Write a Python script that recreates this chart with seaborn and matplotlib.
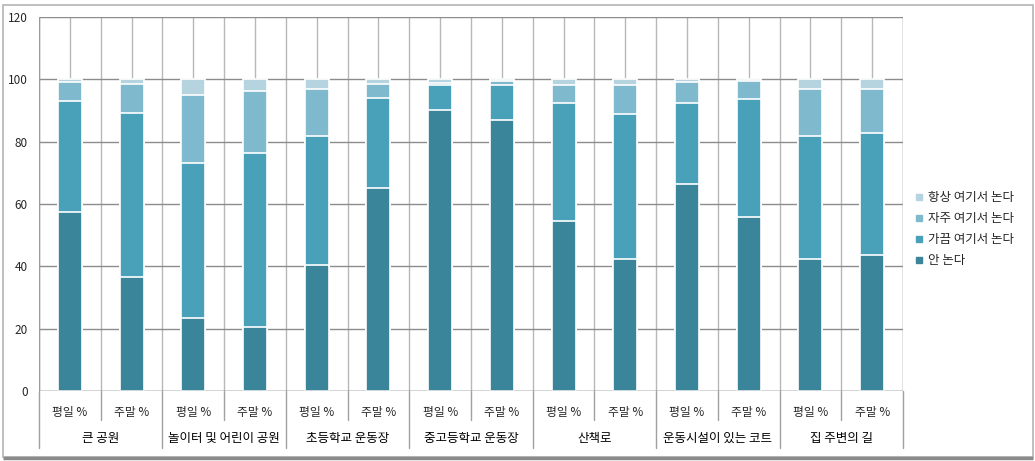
import numpy as np
import pandas as pd
import matplotlib
matplotlib.use("Agg")
import matplotlib.pyplot as plt
import matplotlib.transforms as mtrans
from matplotlib.lines import Line2D
from matplotlib.patches import Rectangle
import seaborn as sns

# ---- data ----
groups = ["큰 공원", "놀이터 및 어린이 공원", "초등학교 운동장", "중고등학교 운동장",
          "산책로", "운동시설이 있는 코트", "집 주변의 길"]
periods = ["평일 %", "주말 %"]
series_names = ["안 논다", "가끔 여기서 논다", "자주 여기서 논다", "항상 여기서 논다"]
never     = [57.4, 36.5, 23.3, 20.5, 40.3, 65.0, 90.0, 86.8, 54.4, 42.5, 66.3, 55.7, 42.4, 43.5]
sometimes = [35.8, 52.8, 50.0, 56.0, 41.6, 29.1,  8.1, 11.4, 38.1, 46.5, 26.2, 38.1, 39.5, 39.4]
often     = [ 6.0,  9.3, 21.8, 19.8, 15.0,  4.4,  0.7,  1.2,  5.8,  9.3,  6.6,  5.6, 15.0, 14.0]
always    = [ 0.8,  1.4,  4.9,  3.7,  3.1,  1.5,  1.2,  0.6,  1.7,  1.7,  0.9,  0.6,  3.1,  3.1]
y_ticks = [0, 20, 40, 60, 80, 100, 120]

colors = {"안 논다": "#3A8599", "가끔 여기서 논다": "#48A1B9",
          "자주 여기서 논다": "#7FB9CE", "항상 여기서 논다": "#B5D4E0"}

sns.set_style("white")
plt.rcParams["font.family"] = ["Noto Sans CJK KR", "DejaVu Sans"]

keys = [f"{g}|{p}" for g in groups for p in periods]
df = pd.DataFrame({"key": keys, "never": never, "sometimes": sometimes,
                   "often": often, "always": always})
df["c1"] = df["never"]
df["c2"] = df["c1"] + df["sometimes"]
df["c3"] = df["c2"] + df["often"]
df["c4"] = df["c3"] + df["always"]

fig = plt.figure(figsize=(10.35, 4.61), dpi=100)
ax = fig.add_axes([39 / 1035, 70 / 461, 864 / 1035, 374 / 461])

n = len(keys)
ax.set_xlim(-0.5, n - 0.5)
ax.set_ylim(0, 120)
for i in range(n):
    ax.axvline(i, color="#b8b8b8", lw=1, zorder=0)
for i in range(n + 1):
    ax.axvline(i - 0.5, color="#b8b8b8", lw=1, zorder=0)
for t in y_ticks:
    ax.axhline(t, color="#8c8c8c", lw=1, zorder=0.5)

layers = [("c4", "항상 여기서 논다"), ("c3", "자주 여기서 논다"),
          ("c2", "가끔 여기서 논다"), ("c1", "안 논다")]
for col, name in layers:
    sns.barplot(data=df, x="key", y=col, order=keys, color=colors[name],
                width=0.39, edgecolor="white", linewidth=1.2, saturation=1,
                errorbar=None, ax=ax, zorder=2)

ax.set_xlim(-0.5, n - 0.5)
ax.set_ylim(0, 120)
ax.set_yticks(y_ticks)
ax.set_yticklabels([str(t) for t in y_ticks], fontsize=8.5)
ax.set_xticks(range(n))
ax.set_xticklabels([p for g in groups for p in periods], fontsize=8.5)
ax.tick_params(axis="x", length=0, pad=11)
ax.tick_params(axis="y", length=0, pad=8)
ax.set_xlabel("")
ax.set_ylabel("")
for s in ax.spines.values():
    s.set_visible(False)
ax.axvline(-0.5, color="#9a9a9a", lw=1, zorder=3)
ax.axvline(n - 0.5, color="#b0b0b0", lw=1, zorder=3)
ax.axhline(0, color="#8c8c8c", lw=1, zorder=3)

# separators in the label area
trans = mtrans.blended_transform_factory(ax.transData, ax.transAxes)
pix = 1 / 374
for i in range(n + 1):
    x = i - 0.5
    if i % 2 == 0:
        y_end = -(448 - 391) * pix
    else:
        y_end = -(420 - 391) * pix
    ax.plot([x, x], [0, y_end], transform=trans, color="#a0a0a0", lw=1,
            clip_on=False, zorder=3)

for gi, g in enumerate(groups):
    ax.text(gi * 2 + 0.5, -(438 - 391) * pix, g, transform=trans,
            ha="center", va="center", fontsize=9, color="black")

# legend
leg_names = ["항상 여기서 논다", "자주 여기서 논다", "가끔 여기서 논다", "안 논다"]
handles = [Line2D([0], [0], marker="s", color="none", markerfacecolor=colors[nm],
                  markeredgecolor=colors[nm], markersize=5)
           for nm in leg_names]
fig.legend(handles, leg_names,
           loc="upper left", bbox_to_anchor=(915 / 1035, 1 - 191 / 461),
           frameon=False, fontsize=9, handlelength=0.6, handletextpad=0.4,
           labelspacing=0.65, borderaxespad=0, borderpad=0)

# outer border
fig.patches.append(Rectangle((3 / 1035, 4 / 461), 1030 / 1035, 452 / 461,
                             transform=fig.transFigure, fill=False,
                             edgecolor="#b4b4b4", lw=1.2))
fig.patches.append(Rectangle((3 / 1035, 3 / 461), 1030 / 1035, 0,
                             transform=fig.transFigure, fill=False,
                             edgecolor="#8a8a8a", lw=2.5))

fig.savefig("out.png", dpi=100)
